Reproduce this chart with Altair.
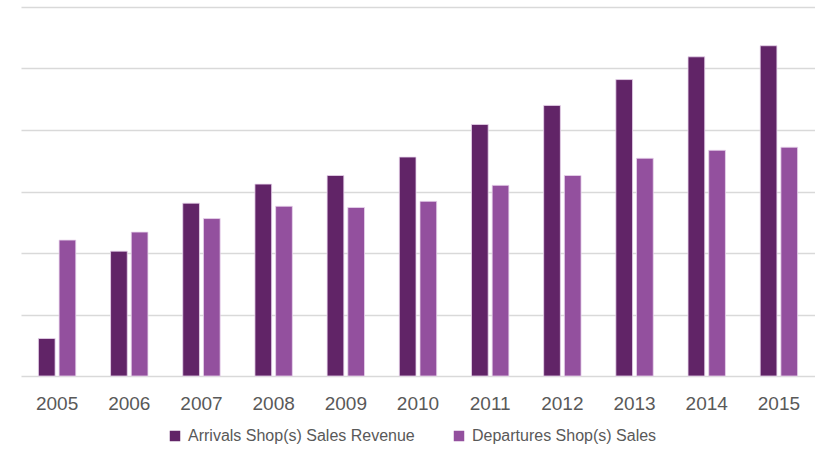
import altair as alt
import pandas as pd

years = ["2005", "2006", "2007", "2008", "2009", "2010", "2011", "2012", "2013", "2014", "2015"]
arrivals = [0.61, 2.03, 2.81, 3.12, 3.26, 3.56, 4.09, 4.40, 4.82, 5.19, 5.37]
departures = [2.21, 2.34, 2.56, 2.76, 2.74, 2.84, 3.10, 3.26, 3.54, 3.67, 3.72]
gridlines = [0, 1, 2, 3, 4, 5, 6]
series = ["Arrivals Shop(s) Sales Revenue", "Departures Shop(s) Sales"]
colors = ["#612467", "#93509e"]

rows = []
for y, a, d in zip(years, arrivals, departures):
    rows.append({"year": y, "series": series[0], "value": a})
    rows.append({"year": y, "series": series[1], "value": d})
df = pd.DataFrame(rows)

FONT = "Liberation Sans"

chart = alt.Chart(df).mark_bar(stroke="#e8d4ec", strokeWidth=0.8).encode(
    x=alt.X("year:N", sort=years, title=None,
            scale=alt.Scale(paddingInner=0.482, paddingOuter=0.241),
            axis=alt.Axis(labelAngle=0, ticks=False, domain=False,
                          labelPadding=18, labelFont=FONT, labelFontSize=19,
                          labelColor="#595959", grid=False)),
    xOffset=alt.XOffset("series:N", sort=series, scale=alt.Scale(paddingInner=0.193)),
    y=alt.Y("value:Q", title=None,
            scale=alt.Scale(domain=[0, 6], nice=False),
            axis=alt.Axis(orient="right", labels=False, ticks=False, tickWidth=0,
                          domain=False, domainWidth=0, domainColor="transparent",
                          grid=True, values=gridlines, gridColor="#d9d9d9", gridWidth=1.5)),
    color=alt.Color("series:N", sort=series, title=None,
                    scale=alt.Scale(domain=series, range=colors),
                    legend=alt.Legend(orient="none", legendX=146, legendY=421, direction="horizontal",
                                      symbolType="square", symbolSize=110, symbolStrokeWidth=0,
                                      labelFont=FONT, labelFontSize=16, labelColor="#595959",
                                      labelLimit=0, columnPadding=36, labelOffset=5)),
).properties(
    width=794, height=369,
    autosize=alt.AutoSizeParams(type="none"),
    padding={"left": 21, "top": 7, "right": 0, "bottom": 73},
).configure(
    background="white",
    view=alt.ViewConfig(stroke="transparent", strokeWidth=0),
)

chart.save("out.html", embed_options={"renderer": "svg", "actions": False})
